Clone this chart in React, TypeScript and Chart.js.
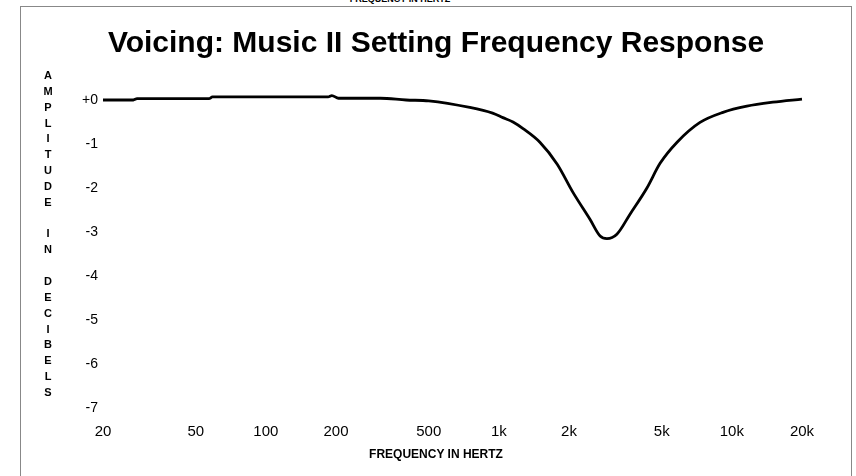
import React, { useEffect, useRef } from "react";
import { Chart, registerables } from "chart.js";

Chart.register(...registerables);

const frequencies = [20, 27, 28, 57, 59, 185, 192, 205, 310, 400, 500, 750, 940, 1040, 1150, 1270, 1500, 1780, 2080, 2460, 2720, 2910, 3210, 3650, 4320, 4920, 5820, 7300, 9160, 11600, 15000, 20000];
const amplitudes = [0, 0, 0.03, 0.03, 0.07, 0.07, 0.1, 0.04, 0.04, 0, -0.02, -0.17, -0.3, -0.4, -0.5, -0.65, -0.96, -1.46, -2.1, -2.71, -3.09, -3.15, -3.05, -2.6, -2.0, -1.44, -0.96, -0.51, -0.28, -0.14, -0.05, 0.02];

const xTickValues = [20, 50, 100, 200, 500, 1000, 2000, 5000, 10000, 20000];
const xTickLabels = ["20", "50", "100", "200", "500", "1k", "2k", "5k", "10k", "20k"];
const yTickValues = [0, -1, -2, -3, -4, -5, -6, -7];
const yTickLabels = ["+0", "-1", "-2", "-3", "-4", "-5", "-6", "-7"];

const titleText = "Voicing: Music II Setting Frequency Response";
const xTitle = "FREQUENCY IN HERTZ";
const yTitle = "AMPLITUDE IN DECIBELS";

const FONT = "'Liberation Sans', Arial, Helvetica, sans-serif";

export default function App() {
  const canvasRef = useRef<HTMLCanvasElement | null>(null);

  useEffect(() => {
    const canvas = canvasRef.current;
    if (!canvas) return;
    const chart = new Chart(canvas, {
      type: "line",
      data: {
        datasets: [
          {
            data: frequencies.map((f, i) => ({ x: f, y: amplitudes[i] })),
            borderColor: "#000000",
            borderWidth: 2.8,
            pointRadius: 0,
            fill: false,
            cubicInterpolationMode: "monotone",
            clip: false,
          } as any,
        ],
      },
      options: {
        responsive: false,
        animation: false,
        devicePixelRatio: 1,
        layout: { padding: { left: 0, right: 54, top: 100, bottom: 0 } },
        plugins: {
          legend: { display: false },
          tooltip: { enabled: false },
          title: { display: false },
        },
        scales: {
          x: {
            type: "logarithmic",
            min: 20,
            max: 20000,
            grid: { display: false, drawTicks: false },
            border: { display: false },
            afterFit: (scale: any) => {
              scale.height = 68;
            },
            afterBuildTicks: (scale: any) => {
              scale.ticks = xTickValues.map((v) => ({ value: v }));
            },
            ticks: {
              autoSkip: false,
              maxRotation: 0,
              padding: 15,
              color: "#000000",
              font: { family: FONT, size: 15 },
              callback: (value: any) => {
                const i = xTickValues.indexOf(Number(value));
                return i >= 0 ? xTickLabels[i] : "";
              },
            },
          },
          y: {
            type: "linear",
            min: -7,
            max: 0,
            grid: { display: false, drawTicks: false },
            border: { display: false },
            afterFit: (scale: any) => {
              scale.width = 103;
            },
            afterBuildTicks: (scale: any) => {
              scale.ticks = yTickValues.map((v) => ({ value: v }));
            },
            ticks: {
              padding: 5,
              color: "#000000",
              font: { family: FONT, size: 14 },
              callback: (value: any) => {
                const i = yTickValues.indexOf(Number(value));
                return i >= 0 ? yTickLabels[i] : "";
              },
            },
          },
        },
      },
    });
    return () => chart.destroy();
  }, []);

  const letters = yTitle.split("");

  return (
    <div style={{ position: "fixed", left: 0, top: 0, width: 856, height: 476, overflow: "hidden", background: "#ffffff", fontFamily: FONT }}>
      <div
        style={{
          position: "absolute",
          left: 325,
          width: 150,
          top: -6,
          textAlign: "center",
          fontSize: 9,
          fontWeight: "bold",
          lineHeight: "10px",
          color: "#000",
          whiteSpace: "nowrap",
        }}
      >
        {xTitle}
      </div>
      <div
        style={{
          position: "absolute",
          left: 20,
          top: 6,
          width: 830,
          height: 500,
          border: "1px solid #888888",
        }}
      />
      <canvas ref={canvasRef} width={856} height={476} style={{ position: "absolute", left: 0, top: 0, width: 856, height: 476 }} />
      <div
        style={{
          position: "absolute",
          left: 21,
          width: 830,
          top: 25,
          textAlign: "center",
          fontSize: 30,
          fontWeight: "bold",
          lineHeight: "34px",
          color: "#000",
          whiteSpace: "nowrap",
        }}
      >
        {titleText}
      </div>
      <div
        style={{
          position: "absolute",
          left: 38,
          width: 20,
          top: 68,
          textAlign: "center",
          fontSize: 11,
          fontWeight: "bold",
          lineHeight: "15.85px",
          color: "#000",
        }}
      >
        {letters.map((c, i) => (
          <div key={i} style={{ height: "15.85px" }}>
            {c === " " ? "\u00a0" : c}
          </div>
        ))}
      </div>
      <div
        style={{
          position: "absolute",
          left: 21,
          width: 830,
          top: 447,
          textAlign: "center",
          fontSize: 12,
          fontWeight: "bold",
          lineHeight: "14px",
          color: "#000",
          whiteSpace: "nowrap",
        }}
      >
        {xTitle}
      </div>
    </div>
  );
}
